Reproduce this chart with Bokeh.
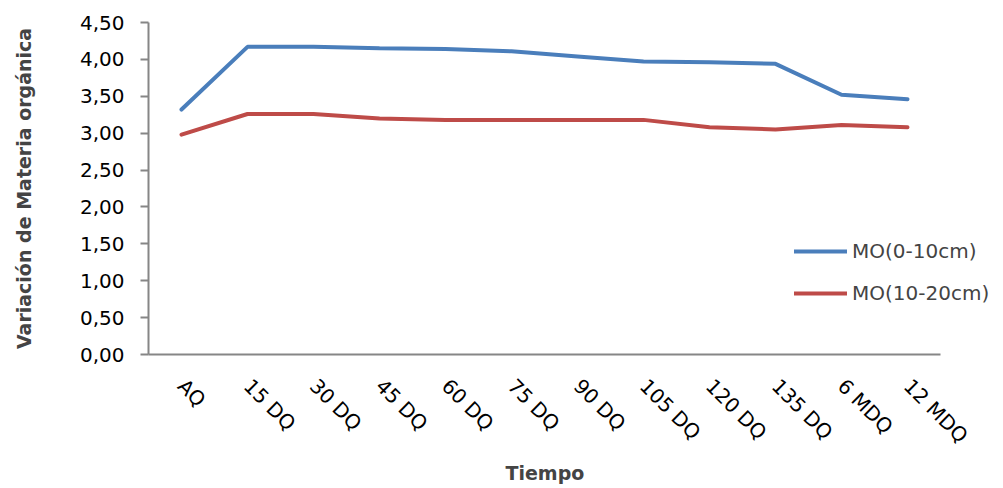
import math
from bokeh.plotting import figure
from bokeh.models import (Range1d, FixedTicker, CustomJSTickFormatter,
                          Legend, LegendItem, Title)
from bokeh.embed import file_html
from bokeh.resources import INLINE

# Sampling times
tiempos = ["AQ", "15 DQ", "30 DQ", "45 DQ", "60 DQ", "75 DQ", "90 DQ",
           "105 DQ", "120 DQ", "135 DQ", "6 MDQ", "12 MDQ"]

# Organic matter by depth
mo_0_10 = [3.32, 4.17, 4.17, 4.15, 4.14, 4.11, 4.04, 3.97, 3.96, 3.94, 3.52, 3.46]
mo_10_20 = [2.98, 3.26, 3.26, 3.20, 3.18, 3.18, 3.18, 3.18, 3.08, 3.05, 3.11, 3.08]

serie_labels = ["MO(0-10cm)", "MO(10-20cm)"]
y_ticks = [0, 0.5, 1, 1.5, 2, 2.5, 3, 3.5, 4, 4.5]

FONT = "DejaVu Sans"
AXIS_GREY = "#868686"

W, H = 1003, 488
LEFT, TOP, BOTTOM = 148, 22, 134
SLOT = 66  # pixels per time slot

# one slot per sampling time; the frame continues to the right edge so the
# legend has room, while the axis line stops after the last slot
pos = list(range(len(tiempos)))
x_start = -0.5
x_end = x_start + (W - LEFT) / SLOT

p = figure(width=W, height=H, x_range=Range1d(x_start, x_end),
           y_range=Range1d(0, 4.5), output_backend="svg", toolbar_location=None,
           min_border_left=LEFT, min_border_right=0, min_border_top=TOP,
           min_border_bottom=BOTTOM)
p.outline_line_color = None
p.xgrid.grid_line_color = None
p.ygrid.grid_line_color = None

r1 = p.line(pos, mo_0_10, line_color="#4A7EBB", line_width=4, line_cap="round")
r2 = p.line(pos, mo_10_20, line_color="#BE4B48", line_width=4, line_cap="round")

# Y axis
yax = p.yaxis[0]
yax.ticker = FixedTicker(ticks=y_ticks, minor_ticks=[])
yax.formatter = CustomJSTickFormatter(code="return tick.toFixed(2).replace('.', ',');")
yax.axis_label = "Variación de Materia orgánica"
yax.axis_label_text_font = FONT
yax.axis_label_text_font_style = "bold"
yax.axis_label_text_font_size = "19px"
yax.axis_label_standoff = 42
yax.major_label_text_font = FONT
yax.major_label_text_font_size = "20px"
yax.major_label_text_color = "black"
yax.major_label_standoff = 16
yax.axis_line_color = AXIS_GREY
yax.axis_line_width = 2
yax.major_tick_line_color = AXIS_GREY
yax.major_tick_line_width = 2
yax.major_tick_out = 8
yax.major_tick_in = 0
yax.minor_tick_line_color = None

# X axis
n_slots = len(tiempos)
xax = p.xaxis[0]
xax.bounds = (x_start, x_start + n_slots)
xax.ticker = FixedTicker(ticks=pos, minor_ticks=[])
xax.major_label_overrides = {i: t for i, t in enumerate(tiempos)}
xax.major_label_text_font = FONT
xax.major_label_text_font_size = "20px"
xax.major_label_text_color = "black"
xax.major_label_orientation = -math.pi / 4
xax.major_label_standoff = 22
xax.axis_line_color = AXIS_GREY
xax.axis_line_width = 2
xax.major_tick_line_color = None
xax.minor_tick_line_color = None

# x axis title, centred under the drawn part of the axis
label_w = 78
p.add_layout(Title(text="Tiempo", align="left",
                   offset=n_slots * SLOT / 2 - label_w / 2,
                   text_font=FONT, text_font_style="bold", text_font_size="19px",
                   standoff=0), "below")

legend = Legend(items=[LegendItem(label=serie_labels[0], renderers=[r1]),
                       LegendItem(label=serie_labels[1], renderers=[r2])],
                location=(646, 49), border_line_color=None, background_fill_alpha=0,
                padding=0, margin=0, spacing=18, glyph_width=53, glyph_height=22,
                label_standoff=5, label_text_font=FONT, label_text_font_size="20px",
                label_height=22)
p.add_layout(legend, "center")

open("out.html", "w").write(file_html(p, INLINE))
